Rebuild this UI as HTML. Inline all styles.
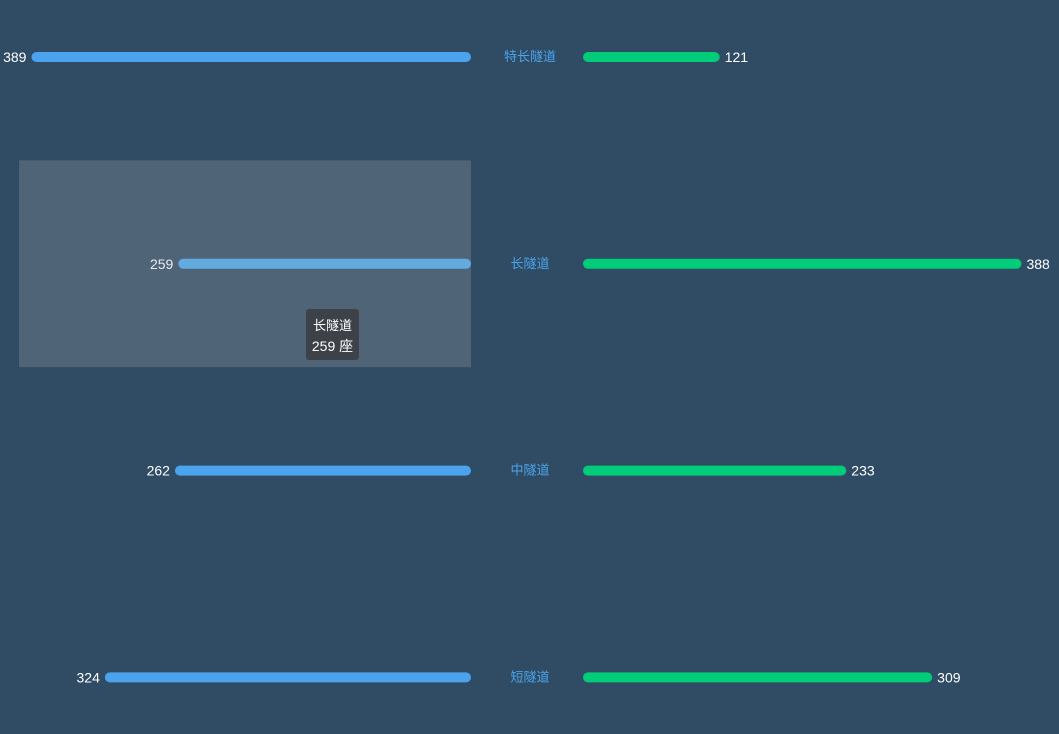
<!DOCTYPE html>
<html><head><meta charset="utf-8">
<style>
html,body{margin:0;padding:0;background:#304c65;width:1059px;height:734px;overflow:hidden;font-family:"Liberation Sans","Noto Sans CJK SC",sans-serif}
svg{display:block}
</style></head><body>
<svg id="chart" width="1059" height="734"></svg>
<script>
const categories = ["特长隧道","长隧道","中隧道","短隧道"];
const leftValues = [389,259,262,324];
const rightValues = [121,388,233,309];
const axisMax = 400;
const highlightIndex = 1;
const unit = "座";

const NS="http://www.w3.org/2000/svg";
const svg=document.getElementById('chart');
const L0=19,L1=471,R0=583,R1=1035;
const rowTop=-46.4, rowH=206.8;
function sx(v){return v/axisMax*(L1-L0);}
function yc(i){return rowTop+rowH*(i+0.5);}
function mk(t,a,parent){const e=document.createElementNS(NS,t);for(const k in a)e.setAttribute(k,a[k]);(parent||svg).appendChild(e);return e;}

const band=mk('rect',{x:L0,y:yc(highlightIndex)-rowH/2,width:L1-L0,height:rowH,fill:'#506477'});



categories.forEach((c,i)=>{
  const y=yc(i);
  const lw=sx(leftValues[i]);
  const lb=mk('rect',{x:L1-lw,y:y-5,width:lw,height:10,rx:5,fill:i===highlightIndex?'#62aadf':'#4aa3ec'});
  
  
  const lt=mk('text',{x:L1-lw-5,y:y+5,'text-anchor':'end','font-size':14,fill:i===highlightIndex?'#e8ecf0':'#fff'});
  lt.textContent=leftValues[i];
  
  
  const rw=sx(rightValues[i]);
  const rb=mk('rect',{x:R0,y:y-5,width:rw,height:10,rx:5,fill:'#00cc7a'});
  
  
  const rt=mk('text',{x:R0+rw+5,y:y+5,'text-anchor':'start','font-size':14,fill:'#fff'});
  rt.textContent=rightValues[i];
  
  
  const ct=mk('text',{x:530,y:y+4,'text-anchor':'middle','font-size':13,fill:'#4aa3ec'});
  ct.textContent=c;
  
  
});

const g=mk('g',{});


mk('rect',{x:306,y:309,width:53,height:51,rx:3,fill:'#3c4247'},g);
const t1=mk('text',{x:332.5,y:330,'text-anchor':'middle','font-size':13,fill:'#fff'},g);
t1.textContent=categories[highlightIndex];
const t2=mk('text',{x:332.5,y:351,'text-anchor':'middle','font-size':14,fill:'#fff'},g);
t2.textContent=leftValues[highlightIndex]+' '+unit;
</script>
</body></html>
